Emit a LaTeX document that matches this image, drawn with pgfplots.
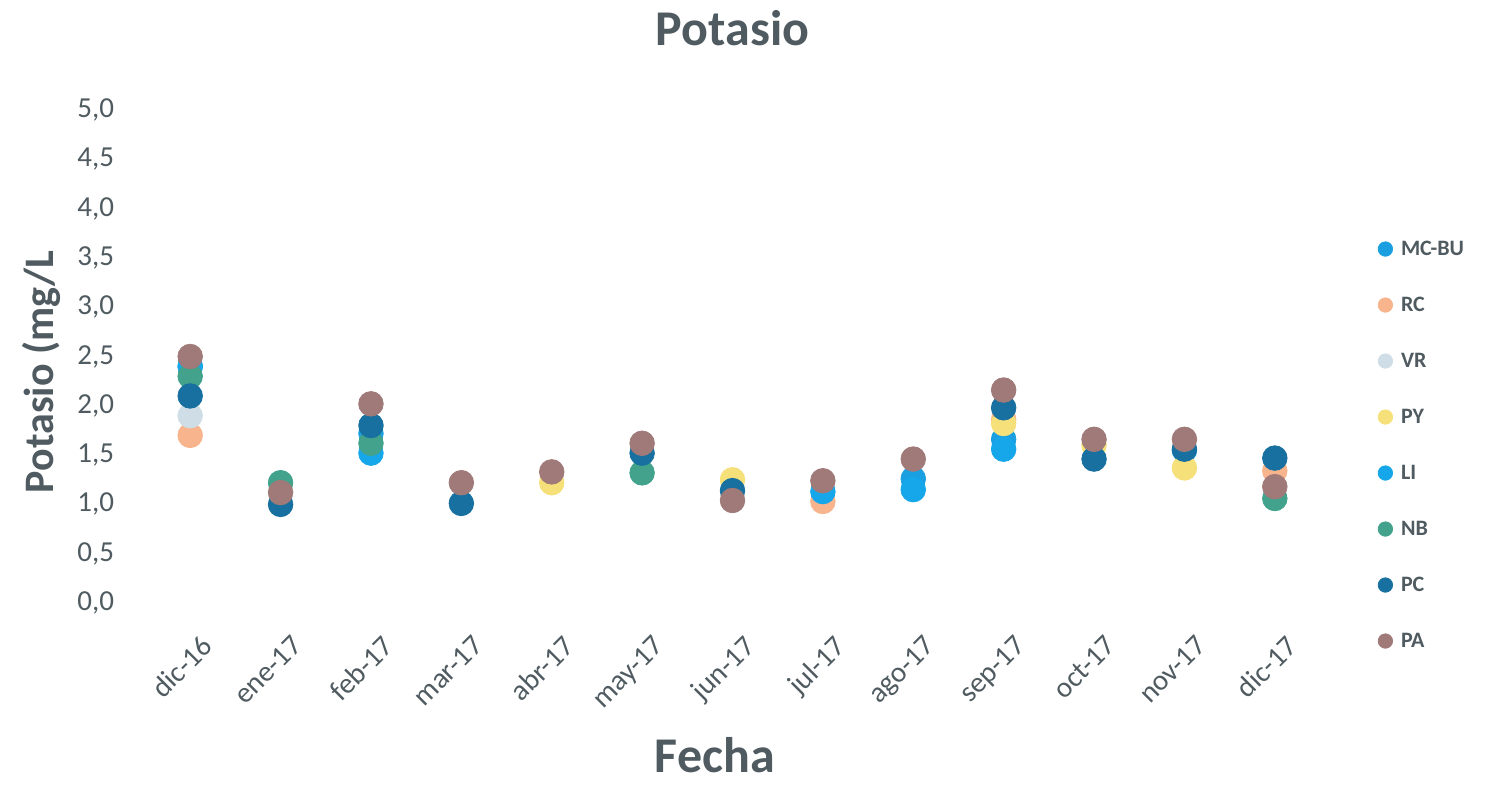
\documentclass[border=0pt]{standalone}
\usepackage{pgfplots}
\pgfplotsset{compat=1.18}
\usepackage{fontspec}
\setmainfont{Carlito}
\definecolor{txt}{HTML}{4F5B60}
\definecolor{cMC}{HTML}{1AA0E0}
\definecolor{cRC}{HTML}{F8B48C}
\definecolor{cVR}{HTML}{CFDDE6}
\definecolor{cPY}{HTML}{F6E07A}
\definecolor{cLI}{HTML}{16A6EA}
\definecolor{cNB}{HTML}{42A28C}
\definecolor{cPC}{HTML}{17709F}
\definecolor{cPA}{HTML}{A07A78}
\begin{document}
\begin{tikzpicture}
\path[use as bounding box] (-72.5pt,-90.5pt) rectangle (670pt,301.5pt);
\begin{axis}[
  at={(0pt,0pt)}, anchor=south west,
  scale only axis, width=587.5pt, height=246.5pt,
  xmin=-0.5, xmax=12.5, ymin=0, ymax=5,
  axis line style={draw=none}, major tick length=0pt,
  xtick={0,1,2,3,4,5,6,7,8,9,10,11,12},
  xticklabels={dic-16,ene-17,feb-17,mar-17,abr-17,may-17,jun-17,jul-17,ago-17,sep-17,oct-17,nov-17,dic-17},
  xticklabel style={rotate=45, anchor=north east, font=\fontsize{14.5}{16}\selectfont, text=txt, yshift=-11pt, xshift=-4pt},
  ytick={0,0.5,1,1.5,2,2.5,3,3.5,4,4.5,5},
  yticklabel style={font=\fontsize{14.5}{16}\selectfont, text=txt, xshift=-12pt},
  /pgf/number format/.cd, use comma, fixed, fixed zerofill, precision=1, assume math mode=true,
  /pgfplots/.cd,
  clip=false,
  legend image code/.code={\fill[#1] (0pt,0pt) circle (3.6pt);},
  legend cell align=left,
  legend style={draw=none, fill=none, inner sep=0pt, outer sep=0pt,
    at={(axis description cs:1.0492,0.7383)}, anchor=north west,
    row sep=18pt, column sep=4pt,
    nodes={text height=8pt, text depth=2pt, inner sep=0pt, font=\bfseries\fontsize{11}{13}\selectfont, text=txt}},
  every axis plot/.append style={only marks, mark=*, mark size=6.15pt, mark options={draw=none}},
]
\addplot[color=cMC] coordinates {(0,2.4) (2,1.72) (8,1.26) (9,1.66) (11,1.55)};
\addlegendentry{MC-BU}
\addplot[color=cRC] coordinates {(0,1.7) (7,1.03) (9,1.86) (12,1.34)};
\addlegendentry{RC}
\addplot[color=cVR] coordinates {(0,1.9)};
\addlegendentry{VR}
\addplot[color=cPY] coordinates {(4,1.22) (6,1.25) (9,1.82) (10,1.6) (11,1.37)};
\addlegendentry{PY}
\addplot[color=cLI] coordinates {(0,2.4) (2,1.52) (7,1.13) (8,1.15) (9,1.56)};
\addlegendentry{LI}
\addplot[color=cNB] coordinates {(0,2.3) (1,1.22) (2,1.62) (5,1.32) (12,1.06)};
\addlegendentry{NB}
\addplot[color=cPC] coordinates {(0,2.1) (1,1.0) (2,1.8) (3,1.01) (5,1.52) (6,1.14) (9,1.98) (10,1.46) (11,1.56) (12,1.47)};
\addlegendentry{PC}
\addplot[color=cPA] coordinates {(0,2.5) (1,1.12) (2,2.02) (3,1.22) (4,1.33) (5,1.62) (6,1.04) (7,1.24) (8,1.46) (9,2.16) (10,1.66) (11,1.66) (12,1.18)};
\addlegendentry{PA}
\node[font=\bfseries\fontsize{25}{28}\selectfont, text=txt] at (axis description cs:0.5,1.166) {Potasio};
\node[inner sep=0pt, font=\bfseries\fontsize{25}{28}\selectfont, text=txt] at (axis description cs:0.485,-0.308) {Fecha};
\node[rotate=90, font=\bfseries\fontsize{21}{24}\selectfont, text=txt] at (axis description cs:-0.0877,0.469) {Potasio (mg/L};
\end{axis}
\end{tikzpicture}
\end{document}
